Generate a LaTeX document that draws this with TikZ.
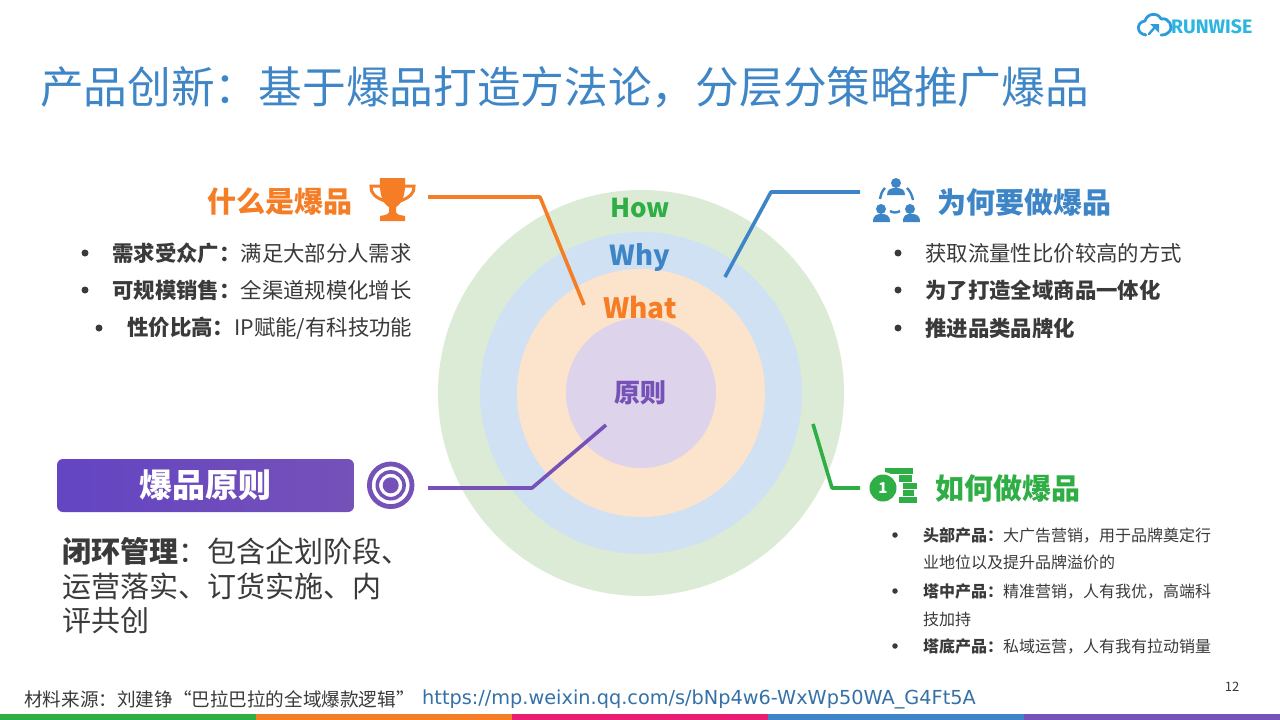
\documentclass[tikz,border=0pt]{standalone}
\usepackage{fontspec}
\setmainfont{Noto Sans CJK SC}
\newfontfamily\urlfont{DejaVu Sans}
\newfontfamily\logofont{Fira Sans}
\definecolor{cgreen}{HTML}{2FAE45}
\definecolor{corange}{HTML}{F47D26}
\definecolor{cpink}{HTML}{E91E73}
\definecolor{cblue}{HTML}{3D85C6}
\definecolor{cpurple}{HTML}{7551B8}
\definecolor{ctitle}{HTML}{3F86C7}
\definecolor{ctext}{HTML}{3A3A3A}
\definecolor{ringg}{HTML}{DCEBD6}
\definecolor{ringb}{HTML}{CFE1F3}
\definecolor{ringo}{HTML}{FCE4CC}
\definecolor{ringp}{HTML}{DDD3EA}
\definecolor{logoc}{HTML}{2E9BDD}
\definecolor{logot}{HTML}{2BB5E0}
\newcommand{\fs}[1]{\fontsize{#1}{#1}\selectfont}
\newcommand{\fcolon}{\char"FF1A\relax}
\newcommand{\fcomma}{\char"FF0C\relax}
\tikzset{
  lbl/.style={inner sep=0pt,anchor=west,text=ctext},
  head/.style={inner sep=0pt,anchor=west,font=\fs{29}\bfseries},
  midt/.style={inner sep=0pt,anchor=center,font=\bfseries},
  body/.style={lbl,font=\fs{21.4}},
  small/.style={lbl,font=\fs{16}},
  big/.style={lbl,font=\fs{29}},
  dot/.style={circle,fill=ctext,inner sep=0pt,minimum size=7pt},
  sdot/.style={circle,fill=ctext,inner sep=0pt,minimum size=5.5pt},
  conn/.style={line width=3.6pt,line join=round},
}
\begin{document}
\begin{tikzpicture}[x=1pt,y=-1pt]
\useasboundingbox (0,0) rectangle (1280,720);
\fill[white] (0,0) rectangle (1280,720);
% footer bar
\fill[cgreen] (0,714) rectangle (256,720);
\fill[corange] (256,714) rectangle (512,720);
\fill[cpink] (512,714) rectangle (768,720);
\fill[cblue] (768,714) rectangle (1024,720);
\fill[cpurple] (1024,714) rectangle (1280,720);
% logo
\draw[logoc,line width=2.8pt,line cap=round,line join=round]
  (1146,35) .. controls (1136,34) and (1136,22) .. (1145,21)
  .. controls (1147,13) and (1158,12) .. (1161,19)
  .. controls (1169,17) and (1174,27) .. (1169,32) .. controls (1167,34) and (1165,35) .. (1161,35);
\draw[logoc,line width=2.4pt,line cap=round] (1149,34) -- (1155,27);
\fill[logoc] (1150,24) -- (1159,24) -- (1159,33) -- cycle;
\node[inner sep=0pt,anchor=west,font=\logofont\fs{19.5}\bfseries,text=logot] (logo) at (1171,27) {RUNWISE};
% title
\node[inner sep=0pt,anchor=west,text=ctitle,font=\fs{43.7}] (title) at (40,87) {产品创新\fcolon 基于爆品打造方法论\fcomma 分层分策略推广爆品};
% rings
\fill[ringg] (641,393) circle (203);
\fill[ringb] (641,393) circle (161);
\fill[ringo] (641,393) circle (124);
\fill[ringp] (641,393) circle (75);
\node[midt,text=cgreen,font=\fs{26}\bfseries] (how) at (640,208) {How};
\node[midt,text=cblue,font=\fs{27.5}\bfseries] (why) at (640,258) {Why};
\node[midt,text=corange,font=\fs{28}\bfseries] (what) at (640,308) {What};
\node[midt,text=cpurple,font=\fs{26}\bfseries] (core) at (640,393) {原则};
% connector anchors
\coordinate (oA) at (428,197); \coordinate (oB) at (540,197); \coordinate (oC) at (584,305);
\coordinate (bA) at (860,192); \coordinate (bB) at (771,192); \coordinate (bC) at (725,277);
\coordinate (gA) at (860,488); \coordinate (gB) at (832,488); \coordinate (gC) at (813,424);
\coordinate (pA) at (428,488); \coordinate (pB) at (532,488); \coordinate (pC) at (606,425);
\draw[conn,corange] (oA) -- (oB) -- (oC);
\draw[conn,cblue] (bA) -- (bB) -- (bC);
\draw[conn,cgreen] (gA) -- (gB) -- (gC);
\draw[conn,cpurple] (pA) -- (pB) -- (pC);
% top-left
\node[head,text=corange] (h1) at (207,202) {什么是爆品};
\fill[corange] (380,178) -- (405,178) .. controls (406,195) and (402,204) .. (396,207) -- (396,212)
  .. controls (397,215) and (400,215) .. (405,216) -- (405,221) -- (380,221) -- (380,216)
  .. controls (385,215) and (388,215) .. (389,212) -- (389,207) .. controls (383,204) and (379,195) .. (380,178) -- cycle;
\draw[corange,line width=3pt] (381,186) -- (371,186) .. controls (370,193) and (376,198) .. (385,201);
\draw[corange,line width=3pt] (404,186) -- (414,186) .. controls (415,193) and (409,198) .. (400,201);
\node[dot] (d1) at (85,253) {};
\node[body] (t1) at (112,253) {\textbf{需求受众广\fcolon}满足大部分人需求};
\node[dot] (d2) at (85,290) {};
\node[body] (t2) at (112,290) {\textbf{可规模销售\fcolon}全渠道规模化增长};
\node[dot] (d3) at (99,328) {};
\node[body] (t3) at (127,328) {\textbf{性价比高\fcolon}IP赋能/有科技功能};
% top-right
\fill[cblue] (896,183) circle (5);
\fill[cblue] (887,195) .. controls (887,189) and (891,188) .. (896,188) .. controls (901,188) and (905,189) .. (905,195) -- cycle;
\fill[cblue] (881,209) circle (5);
\fill[cblue] (873,222) .. controls (873,215) and (877,214) .. (881,214) .. controls (886,214) and (890,215) .. (890,222) -- cycle;
\fill[cblue] (910,209) circle (5);
\fill[cblue] (903,222) .. controls (903,215) and (906,214) .. (911,214) .. controls (916,214) and (920,215) .. (920,222) -- cycle;
\draw[cblue,line width=2.4pt] (880,199) .. controls (881,194) and (882,191) .. (885,188);
\draw[cblue,line width=2.4pt] (907,188) .. controls (910,191) and (912,195) .. (913,200);
\draw[cblue,line width=2.4pt] (890,211) .. controls (893,213) and (897,213) .. (900,211);
\node[head,text=cblue] (h2) at (937,202) {为何要做爆品};
\node[dot] (d4) at (898,253) {};
\node[body] (t4) at (925,253) {获取流量性比价较高的方式};
\node[dot] (d5) at (898,290) {};
\node[body] (t5) at (925,290) {\textbf{为了打造全域商品一体化}};
\node[dot] (d6) at (898,328) {};
\node[body] (t6) at (925,328) {\textbf{推进品类品牌化}};
% bottom-right
\fill[cgreen] (885,468) rectangle (913,473.5);
\fill[cgreen] (899,475) rectangle (912,481.5);
\fill[cgreen] (903,483) rectangle (917,488.5);
\fill[cgreen] (903,490) rectangle (914,495.5);
\fill[cgreen] (899,497) rectangle (917,503);
\fill[white] (883,488) circle (16);
\fill[cgreen] (883,488) circle (13.5);
\node[inner sep=0pt,text=white,font=\fs{15}\bfseries] (one) at (883,488) {1};
\node[head,text=cgreen] (h3) at (935,488) {如何做爆品};
\node[sdot] (s1) at (895,535) {};
\node[small] (u1) at (923,535) {\textbf{头部产品\fcolon}大广告营销\fcomma 用于品牌奠定行};
\node[small] (u1b) at (923,562) {业地位以及提升品牌溢价的};
\node[sdot] (s2) at (895,591) {};
\node[small] (u2) at (923,591) {\textbf{塔中产品\fcolon}精准营销\fcomma 人有我优\fcomma 高端科};
\node[small] (u2b) at (923,619) {技加持};
\node[sdot] (s3) at (895,646) {};
\node[small] (u3) at (923,646) {\textbf{塔底产品\fcolon}私域运营\fcomma 人有我有拉动销量};
% bottom-left
\node[rounded corners=6pt,left color=cpurple!85!blue,right color=cpurple,minimum width=297pt,minimum height=53pt,inner sep=0pt,text=white,font=\fs{33}\bfseries] (box) at (205.5,485.5) {爆品原则};
\draw[cpurple,line width=4.8pt] (390.7,485.3) circle (21.3);
\draw[cpurple,line width=3.6pt] (390.7,485.3) circle (13.4);
\fill[cpurple] (390.7,485.3) circle (8);
\node[big] (c1) at (62,551) {\textbf{闭环管理}\fcolon 包含企划阶段、};
\node[big] (c2) at (62,586) {运营落实、订货实施、内};
\node[big] (c3) at (62,621) {评共创};
% footer
\node[lbl,font=\fs{18.6}] (src) at (24,699) {材料来源\fcolon 刘建铮“巴拉巴拉的全域爆款逻辑”};
\node[inner sep=0pt,anchor=west,text=cblue!85!black,font=\urlfont\fs{19.3}] (url) at (422,699) {https://mp.weixin.qq.com/s/bNp4w6-WxWp50WA\_G4Ft5A};
\node[inner sep=0pt,text=ctext,font=\fs{13}] (page) at (1232,687) {12};
\end{tikzpicture}
\end{document}
